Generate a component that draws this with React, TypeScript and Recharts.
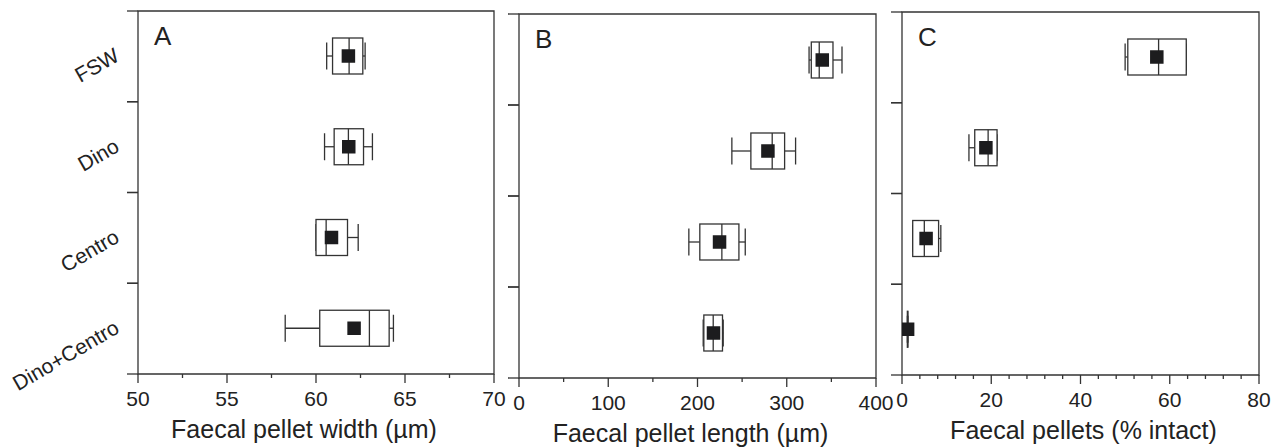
import React from 'react';
import { ComposedChart, Bar, XAxis, YAxis, ReferenceArea, Label } from 'recharts';

// ---- data ----
const categories = ['FSW', 'Dino', 'Centro', 'Dino+Centro'];

// Panel A: faecal pellet width (µm)
const wloA = [60.6, 60.48, 60.0, 58.27];
const q1A = [60.93, 61.02, 60.0, 60.21];
const medA = [61.86, 61.82, 60.57, 63.0];
const q3A = [62.63, 62.67, 61.77, 64.11];
const whiA = [62.76, 63.17, 62.37, 64.35];
const meanA = [61.82, 61.84, 60.87, 62.14];

// Panel B: faecal pellet length (µm)
const wloB = [325.0, 238.5, 190.3, 206.4];
const q1B = [327.5, 259.8, 202.6, 207.1];
const medB = [336.4, 283.7, 227.3, 217.6];
const q3B = [351.8, 297.6, 246.4, 228.0];
const whiB = [361.9, 309.9, 253.5, 228.8];
const meanB = [339.8, 278.9, 224.7, 217.9];

// Panel C: faecal pellets (% intact)
const wloC = [50.0, 15.0, 2.4, 1.2];
const q1C = [50.6, 16.3, 2.4, 1.2];
const medC = [57.5, 19.3, 5.0, 1.26];
const q3C = [63.7, 21.3, 8.2, 1.32];
const whiC = [63.7, 21.3, 8.7, 1.32];
const meanC = [57.1, 18.8, 5.4, 1.26];

// ticks
const ticksA = [50, 52.5, 55, 57.5, 60, 62.5, 65, 67.5, 70];
const majorA = [50, 55, 60, 65, 70];
const ticksB = [0, 50, 100, 150, 200, 250, 300, 350, 400];
const majorB = [0, 100, 200, 300, 400];
const ticksC = [0, 4, 8, 12, 16, 20, 24, 28, 32, 36, 40, 44, 48, 52, 56, 60, 64, 68, 72, 76, 80];
const majorC = [0, 20, 40, 60, 80];

const INK = '#333';
const TXT = '#222';

type Row = { name: string; wlo: number; q1: number; med: number; q3: number; whi: number; mean: number };

const build = (wlo: number[], q1: number[], med: number[], q3: number[], whi: number[], mean: number[]): Row[] =>
  categories.map((name, i) => ({ name, wlo: wlo[i], q1: q1[i], med: med[i], q3: q3[i], whi: whi[i], mean: mean[i] }));

const dataA = build(wloA, q1A, medA, q3A, whiA, meanA);
const dataB = build(wloB, q1B, medB, q3B, whiB, meanB);
const dataC = build(wloC, q1C, medC, q3C, whiC, meanC);

const BoxShape = (props: any) => {
  const { x, y, width, height, payload } = props;
  const lo = payload.wlo;
  const hi = payload.whi;
  const px = (v: number) => x + ((v - lo) / (hi - lo)) * width;
  const cy = y + height / 2;
  const capH = height * 0.75;
  const sq = 13.5;
  const sw = 1.3;
  return (
    <g>
      <line x1={px(lo)} x2={px(payload.q1)} y1={cy} y2={cy} stroke={INK} strokeWidth={sw} />
      <line x1={px(payload.q3)} x2={px(hi)} y1={cy} y2={cy} stroke={INK} strokeWidth={sw} />
      <line x1={px(lo)} x2={px(lo)} y1={cy - capH / 2} y2={cy + capH / 2} stroke={INK} strokeWidth={sw} />
      <line x1={px(hi)} x2={px(hi)} y1={cy - capH / 2} y2={cy + capH / 2} stroke={INK} strokeWidth={sw} />
      <rect
        x={px(payload.q1)}
        y={y}
        width={Math.max(px(payload.q3) - px(payload.q1), 0.5)}
        height={height}
        fill="#fff"
        stroke={INK}
        strokeWidth={sw}
      />
      <line x1={px(payload.med)} x2={px(payload.med)} y1={y} y2={y + height} stroke={INK} strokeWidth={sw} />
      <rect x={px(payload.mean) - sq / 2} y={cy - sq / 2} width={sq} height={sq} fill="#1c1c1e" />
    </g>
  );
};

const makeXTick = (majors: number[]) => (props: any) => {
  const { x, y, payload } = props;
  const isMajor = majors.includes(payload.value);
  return (
    <g>
      <line x1={x} x2={x} y1={y} y2={y + (isMajor ? 9 : 4)} stroke={INK} strokeWidth={1.3} />
      {isMajor && (
        <text x={x} y={y + 17} dy="0.71em" textAnchor="middle" fontSize={21} fill={TXT}>
          {payload.value}
        </text>
      )}
    </g>
  );
};

const makeYTick = (showLabels: boolean) => (props: any) => {
  const { x, y, payload, height, visibleTicksCount } = props;
  const off = payload && payload.offset > 0 ? payload.offset : height / visibleTicksCount / 2;
  const tx = x - 21;
  const ty = y - 3;
  return (
    <g>
      <line x1={x - 11} x2={x} y1={y - off} y2={y - off} stroke={INK} strokeWidth={1.3} />
      <line x1={x - 11} x2={x} y1={y + off} y2={y + off} stroke={INK} strokeWidth={1.3} />
      {showLabels && (
        <text
          x={tx}
          y={ty}
          dy="0.35em"
          textAnchor="end"
          fontSize={21}
          fill={TXT}
          transform={`rotate(-30 ${tx} ${ty})`}
        >
          {payload.value}
        </text>
      )}
    </g>
  );
};

type PanelProps = {
  data: Row[];
  domain: [number, number];
  ticks: number[];
  majors: number[];
  letter: string;
  title: string;
  titleDx: number;
  margin: { top: number; right: number; bottom: number; left: number };
  yWidth: number;
  showLabels: boolean;
};

const Panel = ({ data, domain, ticks, majors, letter, title, titleDx, margin, yWidth, showLabels }: PanelProps) => (
  <div style={{ position: 'absolute', left: 0, top: 0 }}>
    <ComposedChart width={1278} height={447} layout="vertical" data={data} margin={margin}>
      <XAxis
        type="number"
        domain={domain}
        ticks={ticks}
        interval={0}
        allowDataOverflow
        axisLine={false}
        tickLine={false}
        tickSize={0}
        tickMargin={0}
        height={64}
        tick={makeXTick(majors)}
      >
        <Label value={title} position="insideBottom" offset={0} fontSize={25} fill={TXT} dx={titleDx} />
      </XAxis>
      <YAxis
        yAxisId="cat"
        type="category"
        dataKey="name"
        interval={0}
        axisLine={false}
        tickLine={false}
        tickSize={0}
        tickMargin={0}
        width={yWidth}
        tick={makeYTick(showLabels)}
      />
      <ReferenceArea
        yAxisId="cat"
        x1={domain[0]}
        x2={domain[1]}
        fill="none"
        fillOpacity={0}
        stroke={INK}
        strokeWidth={1.3}
        strokeOpacity={1}
        ifOverflow="visible"
      >
        <Label value={letter} position="insideTopLeft" offset={16} fontSize={26} fill={TXT} />
      </ReferenceArea>
      <Bar
        yAxisId="cat"
        dataKey={(d: Row) => [d.wlo, d.whi]}
        barSize={36}
        shape={BoxShape}
        isAnimationActive={false}
      />
    </ComposedChart>
  </div>
);

export default function App() {
  return (
    <div
      style={{
        position: 'absolute',
        left: 0,
        top: 0,
        width: 1278,
        height: 447,
        background: '#fff',
        fontFamily: '"Liberation Sans", Arial, Helvetica, sans-serif',
      }}
    >
      <Panel
        data={dataA}
        domain={[50, 70]}
        ticks={ticksA}
        majors={majorA}
        letter="A"
        title="Faecal pellet width (µm)"
        titleDx={-12}
        margin={{ top: 11, right: 784, bottom: 9, left: 0 }}
        yWidth={138}
        showLabels
      />
      <Panel
        data={dataB}
        domain={[0, 400]}
        ticks={ticksB}
        majors={majorB}
        letter="B"
        title="Faecal pellet length (µm)"
        titleDx={-7}
        margin={{ top: 14, right: 402, bottom: 5, left: 505 }}
        yWidth={14}
        showLabels={false}
      />
      <Panel
        data={dataC}
        domain={[0, 80]}
        ticks={ticksC}
        majors={majorC}
        letter="C"
        title="Faecal pellets (% intact)"
        titleDx={3}
        margin={{ top: 12, right: 19, bottom: 8, left: 888 }}
        yWidth={14}
        showLabels={false}
      />
    </div>
  );
}
